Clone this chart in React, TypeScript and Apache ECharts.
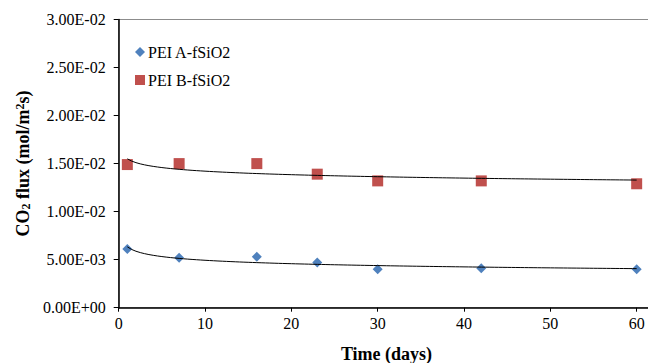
import React, { useEffect, useRef } from "react";
import * as echarts from "echarts";

const days = [1, 7, 16, 23, 30, 42, 60];
const fluxA = [6.1e-3, 5.2e-3, 5.3e-3, 4.7e-3, 4.0e-3, 4.1e-3, 4.0e-3];
const fluxB = [1.49e-2, 1.5e-2, 1.5e-2, 1.39e-2, 1.32e-2, 1.32e-2, 1.29e-2];
const seriesNames = ["PEI A-fSiO2", "PEI B-fSiO2"];
const yTickLabels = ["0.00E+00", "5.00E-03", "1.00E-02", "1.50E-02", "2.00E-02", "2.50E-02", "3.00E-02"];
const xTickLabels = ["0", "10", "20", "30", "40", "50", "60", ""];
const xTitle = "Time (days)";

// Least-squares power trendline (y = a * x^b), as in the spreadsheet trendline
function powerFit(xs: number[], ys: number[]) {
  const n = xs.length;
  const lx = xs.map((v) => Math.log(v));
  const ly = ys.map((v) => Math.log(v));
  const mx = lx.reduce((s, v) => s + v, 0) / n;
  const my = ly.reduce((s, v) => s + v, 0) / n;
  let sxy = 0;
  let sxx = 0;
  for (let i = 0; i < n; i++) {
    sxy += (lx[i] - mx) * (ly[i] - my);
    sxx += (lx[i] - mx) * (lx[i] - mx);
  }
  const b = sxy / sxx;
  const a = Math.exp(my - b * mx);
  const out: number[][] = [];
  const x0 = xs[0];
  const x1 = xs[n - 1];
  for (let x = x0; x <= x1 + 1e-9; x += 0.5) out.push([x, a * Math.pow(x, b)]);
  return out;
}

export default function App() {
  const ref = useRef<HTMLDivElement>(null);
  useEffect(() => {
    if (!ref.current) return;
    const chart = echarts.init(ref.current, null, { renderer: "svg" });
    const font = "'Liberation Serif', 'Times New Roman', serif";
    chart.setOption({
      animation: false,
      backgroundColor: "#ffffff",
      textStyle: { fontFamily: font },
      grid: {
        left: 118.7,
        top: 19.5,
        bottom: 55.3,
        right: -75,
        outerBoundsMode: "none",
        show: true,
        borderColor: "#8c8c8c",
        borderWidth: 1,
        backgroundColor: "transparent",
      },
      legend: {
        orient: "vertical",
        left: 130,
        top: 39,
        itemWidth: 10,
        itemHeight: 10,
        itemGap: 12,
        data: [
          { name: seriesNames[0], icon: "diamond" },
          { name: seriesNames[1], icon: "rect" },
        ],
        textStyle: { fontFamily: font, fontSize: 16, color: "#000", padding: [0, 0, 0, -2] },
      },
      xAxis: {
        type: "value",
        min: 0,
        max: 70,
        interval: 10,
        axisLine: { show: true, lineStyle: { color: "#000", width: 1.5 } },
        axisTick: { show: true, inside: false, length: 4, lineStyle: { color: "#000", width: 1 } },
        axisLabel: {
          fontFamily: font,
          fontSize: 16,
          color: "#000",
          margin: 8,
          showMaxLabel: false,
          formatter: (_v: number, i: number) => xTickLabels[i] ?? "",
        },
        splitLine: { show: false },
      },
      yAxis: {
        type: "value",
        min: 0,
        max: 0.03,
        interval: 0.005,
        name: "CO{sub|2} flux (mol/m{sup|2}s)",
        nameLocation: "middle",
        nameRotate: 90,
        nameGap: 86,
        nameTextStyle: {
          fontFamily: font,
          fontSize: 18,
          fontWeight: "bold",
          color: "#000",
          rich: {
            sub: { fontFamily: font, fontSize: 12, fontWeight: "bold", color: "#000", verticalAlign: "bottom", padding: [6, 0, 0, 0] },
            sup: { fontFamily: font, fontSize: 12, fontWeight: "bold", color: "#000", verticalAlign: "top", padding: [0, 0, 6, 0] },
          },
        },
        axisLine: { show: true, lineStyle: { color: "#000", width: 1.5 } },
        axisTick: { show: true, inside: false, length: 5, lineStyle: { color: "#000", width: 1 } },
        axisLabel: {
          fontFamily: font,
          fontSize: 16,
          color: "#000",
          margin: 13,
          formatter: (_v: number, i: number) => yTickLabels[i],
        },
        splitLine: { show: false },
      },
      series: [
        {
          name: seriesNames[0],
          type: "scatter",
          symbol: "diamond",
          symbolSize: 10,
          itemStyle: { color: "#4F81BD", opacity: 1 },
          data: days.map((d, i) => [d, fluxA[i]]),
          z: 3,
        },
        {
          name: seriesNames[1],
          type: "scatter",
          symbol: "rect",
          symbolSize: 11,
          itemStyle: { color: "#C0504D", opacity: 1 },
          data: days.map((d, i) => [d, fluxB[i]]),
          z: 3,
        },
        {
          name: "trendA",
          type: "line",
          showSymbol: false,
          symbol: "none",
          lineStyle: { color: "#000", width: 1 },
          data: powerFit(days, fluxA),
          z: 4,
          silent: true,
        },
        {
          name: "trendB",
          type: "line",
          showSymbol: false,
          symbol: "none",
          lineStyle: { color: "#000", width: 1 },
          data: powerFit(days, fluxB),
          z: 4,
          silent: true,
        },
      ],
      graphic: [
        {
          type: "text",
          x: 386.5,
          y: 354,
          style: {
            text: xTitle,
            fontFamily: font,
            fontSize: 18,
            fontWeight: "bold",
            fill: "#000",
            textAlign: "center",
            textVerticalAlign: "middle",
          },
        },
      ],
    });
    return () => chart.dispose();
  }, []);
  return <div ref={ref} style={{ width: 648, height: 363, position: "absolute", left: 0, top: 0 }} />;
}
